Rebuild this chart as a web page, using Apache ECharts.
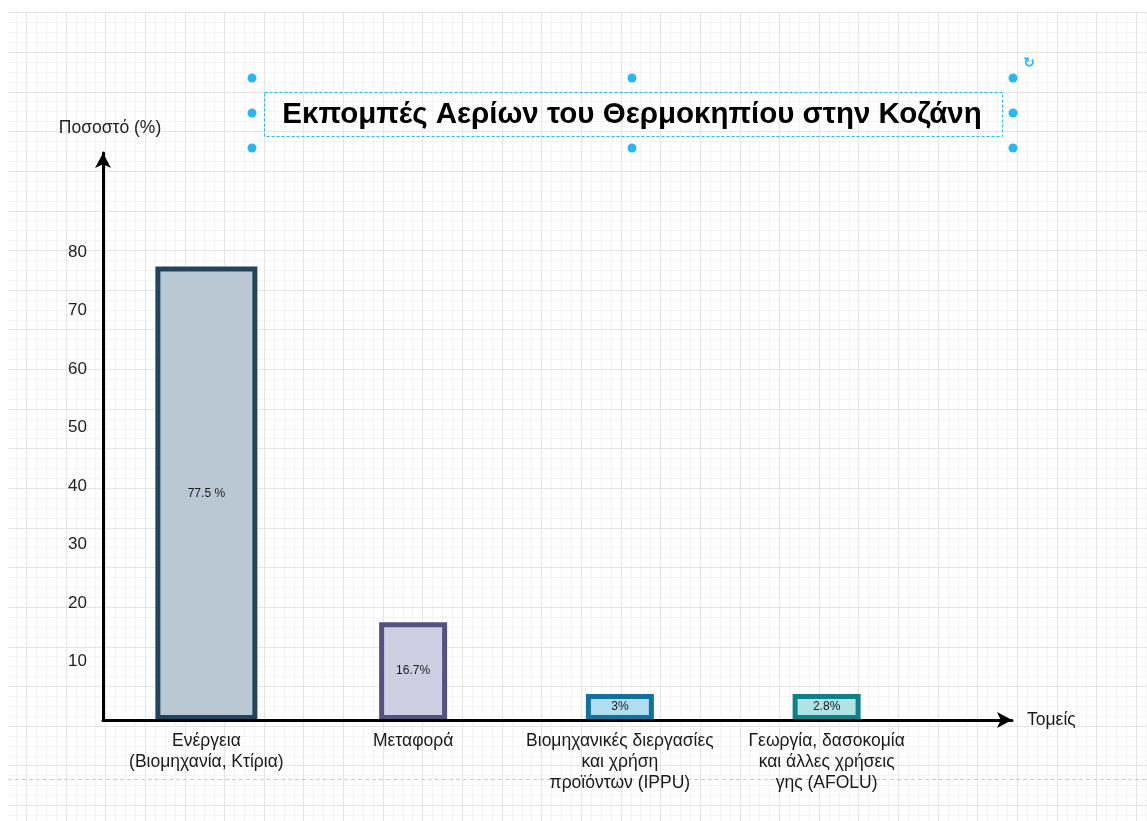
<!DOCTYPE html>
<html><head><meta charset="utf-8">
<script src="https://cdn.jsdelivr.net/npm/echarts@6/dist/echarts.min.js"></script>
<style>html,body{margin:0;padding:0;background:#fff}#c{width:1147px;height:821px}</style>
</head><body><div id="c"></div>
<script>
// ---- data ----
const titleText = 'Εκπομπές Αερίων του Θερμοκηπίου στην Κοζάνη';
const categories = [
  'Ενέργεια\n(Βιομηχανία, Κτίρια)',
  'Μεταφορά',
  'Βιομηχανικές διεργασίες\nκαι χρήση\nπροϊόντων (IPPU)',
  'Γεωργία, δασοκομία\nκαι άλλες χρήσεις\nγης (AFOLU)'
];
const values = [77.5, 16.7, 3, 2.8];
const valueLabels = ['77.5 %', '16.7%', '3%', '2.8%'];
const yTickLabels = [10, 20, 30, 40, 50, 60, 70, 80];
const yAxisName = 'Ποσοστό (%)';
const xAxisName = 'Τομείς';

// ---- styles ----
const FONT = '"Liberation Sans", Arial, Helvetica, sans-serif';
const fills = ['#bac8d3', '#d0cee2', '#b1ddf0', '#b0e3e6'];
const borders = ['#23445d', '#56517e', '#10739e', '#0e8088'];
const wideIdx = [0];

function item(i) {
  return { value: values[i], itemStyle: { color: fills[i], borderColor: borders[i] } };
}
const wideData = values.map((v, i) => wideIdx.includes(i) ? item(i) : '-');
const narrowData = values.map((v, i) => wideIdx.includes(i) ? '-' : item(i));

// ---- background decoration (draw.io canvas grid, selection handles) ----
const W = 1147, H = 821;
const gx0 = 8, gy0 = 12, step = 39.64, sub = step / 4, ox = 26, oy = 12.3;
const els = [];
for (let j = -2; ; j++) {
  const x = ox + j * sub; if (x > W) break; if (x < gx0) continue;
  const major = j % 4 === 0;
  els.push({ type: 'line', z: -2 + (major ? 1 : 0), silent: true,
    shape: { x1: Math.round(x) + 0.5, y1: gy0, x2: Math.round(x) + 0.5, y2: H },
    style: { stroke: major ? '#e4e4e4' : '#f4f4f4', lineWidth: 1 } });
}
for (let j = 0; ; j++) {
  const y = oy + j * sub; if (y > H) break;
  const major = j % 4 === 0;
  els.push({ type: 'line', z: -2 + (major ? 1 : 0), silent: true,
    shape: { x1: gx0, y1: Math.round(y) + 0.5, x2: W, y2: Math.round(y) + 0.5 },
    style: { stroke: major ? '#e4e4e4' : '#f4f4f4', lineWidth: 1 } });
}
// page break line
els.push({ type: 'line', z: 0, silent: true, shape: { x1: gx0, y1: 779.5, x2: W, y2: 779.5 },
  style: { stroke: '#c8c8c8', lineWidth: 1, lineDash: [4, 3] } });
// selection box around title
els.push({ type: 'rect', z: 10, silent: true, shape: { x: 264.5, y: 92.5, width: 738, height: 44 },
  style: { fill: 'none', stroke: '#29b6f2', lineWidth: 1, lineDash: [3, 2] } });
[[252, 78], [632, 78], [1013, 78], [252, 113], [1013, 113], [252, 148], [632, 148], [1013, 148]].forEach(p => {
  els.push({ type: 'circle', z: 11, silent: true, shape: { cx: p[0], cy: p[1], r: 4.5 }, style: { fill: '#29b6f2' } });
});
els.push({ type: 'text', z: 11, silent: true, x: 1029, y: 63,
  style: { text: '↻', fill: '#29b6f2', font: 'bold 14px "DejaVu Sans"', align: 'center', verticalAlign: 'middle' } });

const labelCfg = {
  show: true, position: 'inside', fontSize: 12, color: '#1a1a1a', fontFamily: FONT,
  formatter: p => valueLabels[p.dataIndex]
};

const option = {
  animation: false,
  backgroundColor: '#ffffff',
  textStyle: { fontFamily: FONT },
  title: {
    text: titleText, left: 632, textAlign: 'center', top: 100, padding: 0,
    textStyle: { fontSize: 29.5, fontWeight: 'bold', color: '#000', fontFamily: FONT }
  },
  graphic: { elements: els },
  grid: [
    { left: 103, top: 153, width: 827, height: 567 },
    { left: 103, top: 153, width: 909, height: 567 }
  ],
  xAxis: [
    { gridIndex: 0, type: 'category', data: categories,
      axisLine: { show: false }, axisTick: { show: false }, splitLine: { show: false },
      axisLabel: { interval: 0, fontSize: 17.5, lineHeight: 21, color: '#1a1a1a', margin: 11, fontFamily: FONT } },
    { gridIndex: 0, type: 'category', data: categories, show: false },
    { gridIndex: 1, type: 'value', min: 0, max: 1, z: 5,
      axisLine: { show: true, lineStyle: { color: '#000', width: 3 }, symbol: ['none', 'arrow'], symbolSize: [12, 15] },
      axisTick: { show: false }, axisLabel: { show: false }, splitLine: { show: false },
      name: xAxisName, nameLocation: 'end', nameGap: 15,
      nameTextStyle: { fontSize: 17.5, color: '#1a1a1a', fontFamily: FONT } }
  ],
  yAxis: [
    { gridIndex: 0, type: 'value', min: 0, max: 96.9, interval: 10, z: 5,
      axisLine: { show: true, lineStyle: { color: '#000', width: 3 }, symbol: ['none', 'arrow'], symbolSize: [12, 15] },
      axisTick: { show: false }, splitLine: { show: false },
      axisLabel: { fontSize: 17, color: '#222', margin: 16, fontFamily: FONT,
        formatter: v => yTickLabels.includes(Math.round(v)) && Math.abs(v - Math.round(v)) < 1e-6 ? String(Math.round(v)) : '' },
      name: yAxisName, nameLocation: 'end', nameGap: 16,
      nameTextStyle: { fontSize: 17.5, color: '#222', align: 'center', padding: [0, 0, 0, 14], fontFamily: FONT } },
    { gridIndex: 1, type: 'value', min: 0, max: 1, show: false }
  ],
  series: [
    { type: 'bar', xAxisIndex: 0, yAxisIndex: 0, data: wideData, barWidth: 102,
      itemStyle: { borderWidth: 5 }, label: labelCfg },
    { type: 'bar', xAxisIndex: 1, yAxisIndex: 0, data: narrowData, barWidth: 68, barMinHeight: 26,
      itemStyle: { borderWidth: 5 }, label: labelCfg }
  ]
};
const chart = echarts.init(document.getElementById('c'), null, { renderer: 'canvas' });
chart.setOption(option);
</script>
</body></html>
